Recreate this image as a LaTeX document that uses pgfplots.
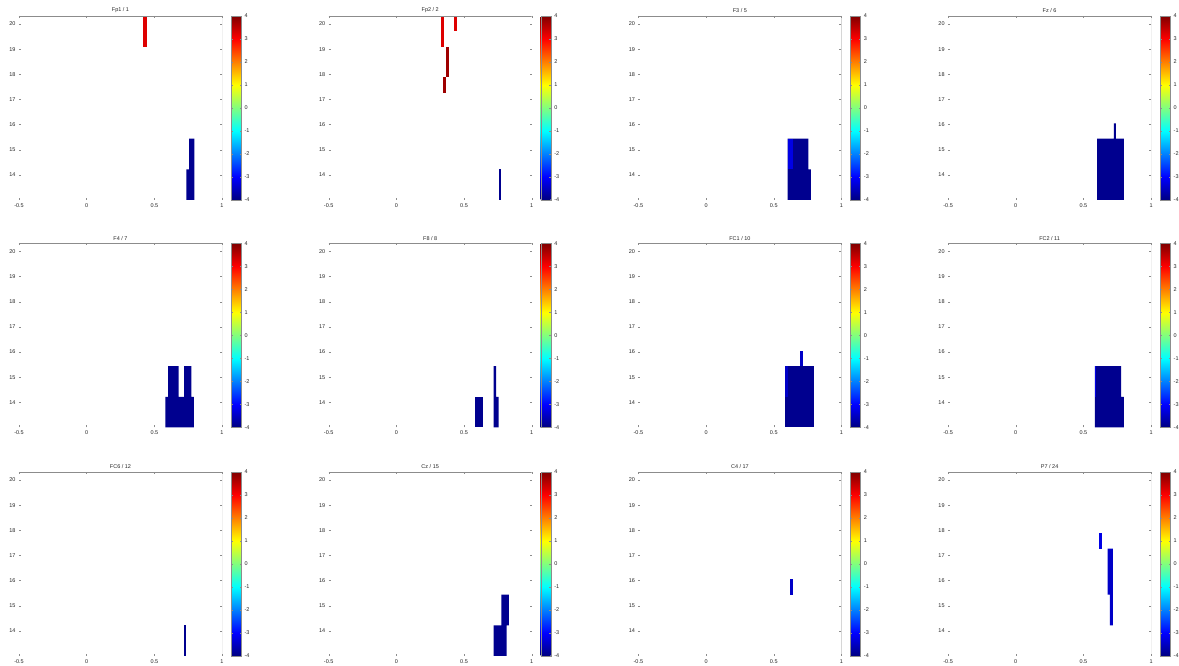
\documentclass[border=0pt]{standalone}
\usepackage{pgfplots}
\pgfplotsset{compat=1.18}
\usepackage{fontspec}
\setmainfont{Liberation Sans}

\definecolor{jetNavy}{rgb}{0,0,0.56}
\definecolor{jetMid}{rgb}{0,0,0.78}
\definecolor{jetBlue}{rgb}{0,0,0.9}
\definecolor{jetRed}{rgb}{0.87,0,0}
\definecolor{jetDark}{rgb}{0.62,0,0}
\definecolor{frameGray}{rgb}{0.55,0.55,0.55}

\newcommand{\tinyfont}{\fontsize{5.5}{6.5}\selectfont}

\pgfplotsset{
  tfAxis/.style={
    scale only axis,
    width=203pt, height=184pt,
    xmin=-0.5, xmax=1, ymin=13, ymax=20.32,
    xtick={-0.5,0,0.5,1}, xticklabels={-0.5,0,0.5,1},
    ytick={14,15,16,17,18,19,20}, yticklabels={14,15,16,17,18,19,20},
    tick label style={font=\tinyfont, text=black!85},
    axis line style={draw=none},
    tick style={draw=frameGray, line width=0.4pt},
    major tick length=2pt,
    tick align=inside,
    title style={font=\tinyfont, text=black!85, yshift=-6.5pt},
    colormap/jet,
    point meta min=-4, point meta max=4,
    colorbar,
    colorbar style={
      at={(parent axis.north east)}, anchor=north west, xshift=0.5pt,
      width=10pt,
      ytick={-4,-3,-2,-1,0,1,2,3,4},
      yticklabels={-4,-3,-2,-1,0,1,2,3,4},
      yticklabel style={font=\tinyfont, text=black!85},
      axis line style={draw=frameGray, line width=0.4pt},
      tick style={draw=frameGray},
      major tick length=1.5pt,
    },
  },
  navy/.style={draw=none, fill=jetNavy, forget plot},
  mid/.style={draw=none, fill=jetMid, forget plot},
  lblue/.style={draw=none, fill=jetBlue, forget plot},
  red/.style={draw=none, fill=jetRed, forget plot},
  dred/.style={draw=none, fill=jetDark, forget plot},
}
\newcommand{\frameTR}{\draw[frameGray, line width=0.4pt] (rel axis cs:0,1) -- (rel axis cs:1,1) -- (rel axis cs:1,0);}

\begin{document}
\begin{tikzpicture}
\useasboundingbox (0pt,0pt) rectangle (1179pt,-666pt);

% row 1
\begin{axis}[tfAxis, at={(19pt,-16pt)}, anchor=north west, title={Fp1 / 1}]
  \addplot[red] coordinates {(0.417,19.10) (0.444,19.10) (0.444,20.32) (0.417,20.32)} -- cycle;
  \addplot[navy] coordinates {(0.737,13) (0.796,13) (0.796,15.44) (0.757,15.44) (0.757,14.22) (0.737,14.22)} -- cycle;
  \frameTR
\end{axis}

\begin{axis}[tfAxis, at={(328.7pt,-16pt)}, anchor=north west, title={Fp2 / 2}]
  \addplot[red] coordinates {(0.330,19.10) (0.349,19.10) (0.349,20.32) (0.330,20.32)} -- cycle;
  \addplot[red] coordinates {(0.425,19.71) (0.445,19.71) (0.445,20.32) (0.425,20.32)} -- cycle;
  \addplot[dred] coordinates {(0.366,17.88) (0.386,17.88) (0.386,19.10) (0.366,19.10)} -- cycle;
  \addplot[dred] coordinates {(0.347,17.27) (0.369,17.27) (0.369,17.88) (0.347,17.88)} -- cycle;
  \addplot[navy] coordinates {(0.755,13) (0.775,13) (0.775,14.22) (0.755,14.22)} -- cycle;
  \frameTR
\end{axis}

\begin{axis}[tfAxis, at={(638.4pt,-16pt)}, anchor=north west, title={F3 / 5}]
  \addplot[navy] coordinates {(0.603,13) (0.775,13) (0.775,14.22) (0.755,14.22) (0.755,15.44) (0.603,15.44)} -- cycle;
  \addplot[lblue] coordinates {(0.603,14.22) (0.640,14.22) (0.640,15.44) (0.603,15.44)} -- cycle;
  \frameTR
\end{axis}

\begin{axis}[tfAxis, at={(948.1pt,-16pt)}, anchor=north west, title={Fz / 6}]
  \addplot[navy] coordinates {(0.602,13) (0.798,13) (0.798,15.44) (0.739,15.44) (0.739,16.05) (0.725,16.05) (0.725,15.44) (0.602,15.44)} -- cycle;
  \frameTR
\end{axis}

% row 2
\begin{axis}[tfAxis, at={(19pt,-243.5pt)}, anchor=north west, title={F4 / 7}]
  \addplot[navy] coordinates {(0.582,13) (0.793,13) (0.793,14.22) (0.774,14.22) (0.774,15.44) (0.720,15.44) (0.720,14.22) (0.680,14.22) (0.680,15.44) (0.602,15.44) (0.602,14.22) (0.582,14.22)} -- cycle;
  \frameTR
\end{axis}

\begin{axis}[tfAxis, at={(328.7pt,-243.5pt)}, anchor=north west, title={F8 / 8}]
  \addplot[navy] coordinates {(0.584,13) (0.638,13) (0.638,14.22) (0.584,14.22)} -- cycle;
  \addplot[navy] coordinates {(0.719,13) (0.755,13) (0.755,14.22) (0.738,14.22) (0.738,15.44) (0.719,15.44)} -- cycle;
  \frameTR
\end{axis}

\begin{axis}[tfAxis, at={(638.4pt,-243.5pt)}, anchor=north west, title={FC1 / 10}]
  \addplot[navy] coordinates {(0.583,13) (0.794,13) (0.794,15.44) (0.583,15.44)} -- cycle;
  \addplot[mid] coordinates {(0.696,15.44) (0.716,15.44) (0.716,16.05) (0.696,16.05)} -- cycle;
  \addplot[mid] coordinates {(0.583,14.22) (0.605,14.22) (0.605,15.44) (0.583,15.44)} -- cycle;
  \frameTR
\end{axis}

\begin{axis}[tfAxis, at={(948.1pt,-243.5pt)}, anchor=north west, title={FC2 / 11}]
  \addplot[navy] coordinates {(0.584,13) (0.798,13) (0.798,14.22) (0.779,14.22) (0.779,15.44) (0.584,15.44)} -- cycle;
  \addplot[lblue] coordinates {(0.584,14.22) (0.596,14.22) (0.596,15.44) (0.584,15.44)} -- cycle;
  \frameTR
\end{axis}

% row 3
\begin{axis}[tfAxis, at={(19pt,-472pt)}, anchor=north west, title={FC6 / 12}]
  \addplot[navy] coordinates {(0.720,13) (0.737,13) (0.737,14.22) (0.720,14.22)} -- cycle;
  \frameTR
\end{axis}

\begin{axis}[tfAxis, at={(328.7pt,-472pt)}, anchor=north west, title={Cz / 15}]
  \addplot[navy] coordinates {(0.719,13) (0.814,13) (0.814,14.22) (0.831,14.22) (0.831,15.44) (0.775,15.44) (0.775,14.22) (0.719,14.22)} -- cycle;
  \frameTR
\end{axis}

\begin{axis}[tfAxis, at={(638.4pt,-472pt)}, anchor=north west, title={C4 / 17}]
  \addplot[mid] coordinates {(0.623,15.44) (0.645,15.44) (0.645,16.05) (0.623,16.05)} -- cycle;
  \frameTR
\end{axis}

\begin{axis}[tfAxis, at={(948.1pt,-472pt)}, anchor=north west, title={P7 / 24}]
  \addplot[lblue] coordinates {(0.618,17.27) (0.637,17.27) (0.637,17.88) (0.618,17.88)} -- cycle;
  \addplot[mid] coordinates {(0.679,15.44) (0.696,15.44) (0.696,14.22) (0.718,14.22) (0.718,17.27) (0.679,17.27)} -- cycle;
  \frameTR
\end{axis}
\end{tikzpicture}
\end{document}
